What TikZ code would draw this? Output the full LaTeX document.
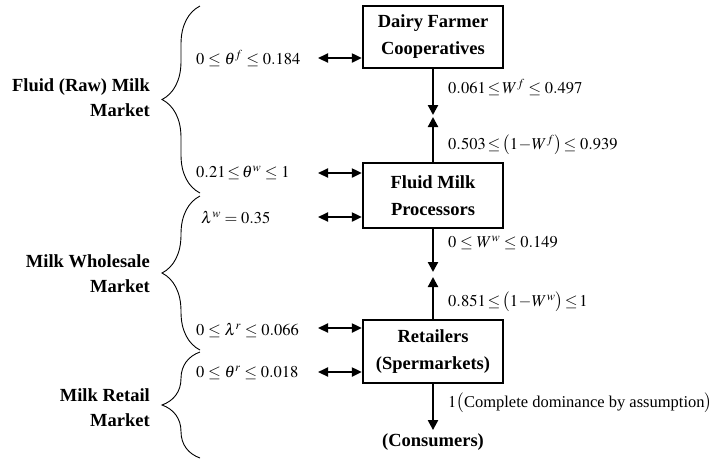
\documentclass[tikz,border=0pt]{standalone}
\usepackage{amsmath}
\usepackage{mathptmx}
\usepackage{fontspec}
\setmainfont{Liberation Serif}[BoldFont={Liberation Serif Bold},ItalicFont={Liberation Serif Italic}]
\usepackage{tikz}
\usetikzlibrary{arrows.meta,decorations.pathreplacing,calc,positioning}

\begin{document}
\begin{tikzpicture}[x=1pt,y=-1pt,font=\fontsize{16.5}{26}\selectfont]
    \tikzstyle{agent}=[rectangle, draw, line width=2.4pt, minimum width=140pt, align=center, font=\fontsize{18.5}{27}\selectfont\bfseries, inner sep=2pt]
    \tikzstyle{flow}=[line width=2.2pt, -{Triangle[length=10pt,width=10pt]}]
    \tikzstyle{link}=[line width=2.2pt, {Triangle[length=10pt,width=9pt]}-{Triangle[length=10pt,width=9pt]}]
    \tikzstyle{market}=[decorate, decoration={brace, amplitude=38pt}, line width=0.9pt]
    \tikzstyle{mlabel}=[anchor=east, align=right, font=\fontsize{18.5}{25}\selectfont\bfseries, inner sep=0pt]
    \tikzstyle{par}=[anchor=west, inner sep=0pt]

    \useasboundingbox (0,0) rectangle (724,459);

    % chain of agents
    \node[agent, minimum height=62pt] (dairy)  at (433,37)    {Dairy Farmer\\Cooperatives};
    \node[agent, minimum height=65pt] (proc)   at (433,195.5) {Fluid Milk\\Processors};
    \node[agent, minimum height=63pt] (retail) at (433,351.5) {Retailers\\(Spermarkets)};
    \node[font=\fontsize{18.5}{26}\selectfont\bfseries] (cons) at (433,442) {(Consumers)};

    \coordinate (m1a) at (433,115);
    \coordinate (m1b) at (433,117);
    \coordinate (m2a) at (433,272);
    \coordinate (m2b) at (433,277);

    \draw[flow] (dairy.south) -- (m1a);
    \draw[flow] (proc.north) -- (m1b);
    \draw[flow] (proc.south) -- (m2a);
    \draw[flow] (retail.north) -- (m2b);
    \draw[flow] (retail.south) -- (cons.north);

    % shares along the chain
    \node[par] (wf)  at (448,87)  {$0.061\!\leq\! W^{f}\leq 0.497$};
    \node[par] (wf1) at (448,145) {$0.503\!\leq\!\bigl(1\!-\!W^{f}\bigr)\!\leq 0.939$};
    \node[par] (ww)  at (448,243) {$0\leq W^{w}\leq 0.149$};
    \node[par] (ww1) at (448,302) {$0.851\!\leq\!\bigl(1\!-\!W^{w}\bigr)\!\leq\!1$};
    \node[par] (wr)  at (448,403) {$1\bigl(\text{Complete dominance by assumption}\bigr)$};

    % market power parameters
    \node[par] (tf) at (196,58)  {$0\leq\theta^{f}\leq 0.184$};
    \node[par] (tw) at (196,173) {$0.21\!\leq\!\theta^{w}\leq 1$};
    \node[par] (lw) at (201,217) {$\lambda^{w}=0.35$};
    \node[par] (lr) at (196,330) {$0\leq\lambda^{r}\leq 0.066$};
    \node[par] (tr) at (196,373) {$0\leq\theta^{r}\leq 0.018$};

    \coordinate (a1) at (318,58);
    \coordinate (a2) at (318,173);
    \coordinate (a3) at (318,217);
    \coordinate (a4) at (318,328);
    \coordinate (a5) at (318,372);

    \draw[link] (a1) -- (a1 -| dairy.west);
    \draw[link] (a2) -- (a2 -| proc.west);
    \draw[link] (a3) -- (a3 -| proc.west);
    \draw[link] (a4) -- (a4 -| retail.west);
    \draw[link] (a5) -- (a5 -| retail.west);

    % markets
    \draw[market] (200,193) -- (200,6);
    \draw[market] (200,350) -- (200,196);
    \draw[market] (200,458) -- (200,352);

    \node[mlabel] (raw)    at (150,98)  {Fluid (Raw) Milk\\Market};
    \node[mlabel] (whole)  at (150,274) {Milk Wholesale\\Market};
    \node[mlabel] (retmkt) at (150,408) {Milk Retail\\Market};
\end{tikzpicture}
\end{document}
